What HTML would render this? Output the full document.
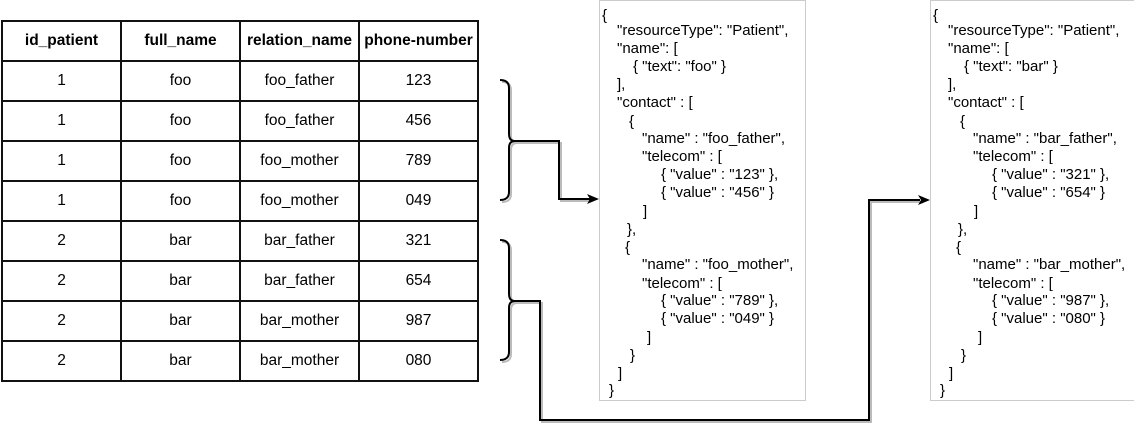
<!DOCTYPE html>
<html><head><meta charset="utf-8"><style>
body{margin:0;width:1134px;height:433px;background:#fff;overflow:hidden;font-family:"Liberation Sans",Arial,sans-serif;}
table{position:absolute;left:1px;top:20px;border-collapse:collapse;table-layout:fixed;width:478px;}
td{border:2px solid #111;height:38px;text-align:center;font-size:15.5px;color:#000;padding:0;white-space:nowrap;overflow:visible;}
tr:first-child td{font-weight:bold;}
svg{position:absolute;left:0;top:0;}
</style></head><body>
<svg width="1134" height="433" font-family="Liberation Sans, Arial, sans-serif" font-size="15">
<rect x="599.5" y="0.5" width="206" height="400" fill="#fff" stroke="#ccc"/>
<rect x="930.5" y="0.5" width="210" height="400" fill="#fff" stroke="#ccc"/>
<g fill="none" stroke="#bbb" stroke-width="2" transform="translate(2,2)">
<path d="M500 80 Q509 80 509 88 L509 134 Q509 141 515 141 Q509 141 509 148 L509 192 Q509 200 500 200"/>
<path d="M515 141 H559 V199 H590"/>
<path d="M500 240 Q509 240 509 248 L509 294 Q509 301 515 301 Q509 301 509 308 L509 352 Q509 360 500 360"/>
<path d="M515 301 H540 V420 H869 V200 H920"/>
</g>
<g fill="none" stroke="#000" stroke-width="2">
<path d="M500 80 Q509 80 509 88 L509 134 Q509 141 515 141 Q509 141 509 148 L509 192 Q509 200 500 200"/>
<path d="M515 141 H559 V199 H590"/>
<path d="M500 240 Q509 240 509 248 L509 294 Q509 301 515 301 Q509 301 509 308 L509 352 Q509 360 500 360"/>
<path d="M515 301 H540 V420 H869 V200 H920"/>
</g>
<path d="M599 199 L587 194 L590 199 L587 204 Z" fill="#000"/>
<path d="M930 200 L918 195 L921 200 L918 205 Z" fill="#000"/>
<g fill="#000">
<text x="602" y="20">{</text>
<text x="617" y="35">"resourceType": "Patient",</text>
<text x="617" y="53">"name": [</text>
<text x="633" y="71">{ "text": "foo" }</text>
<text x="617" y="89">],</text>
<text x="617" y="107">"contact" : [</text>
<text x="629" y="126">{</text>
<text x="642" y="143">"name" : "foo_father",</text>
<text x="642" y="161">"telecom" : [</text>
<text x="661" y="179">{ "value" : "123" },</text>
<text x="661" y="197">{ "value" : "456" }</text>
<text x="643" y="216">]</text>
<text x="627" y="234">},</text>
<text x="625" y="252">{</text>
<text x="642" y="269">"name" : "foo_mother",</text>
<text x="642" y="288">"telecom" : [</text>
<text x="661" y="305">{ "value" : "789" },</text>
<text x="661" y="323">{ "value" : "049" }</text>
<text x="647" y="342">]</text>
<text x="630" y="360">}</text>
<text x="618" y="378">]</text>
<text x="609" y="395">}</text>
</g>
<g fill="#000" transform="translate(331,0)">
<text x="602" y="20">{</text>
<text x="617" y="35">"resourceType": "Patient",</text>
<text x="617" y="53">"name": [</text>
<text x="633" y="71">{ "text": "bar" }</text>
<text x="617" y="89">],</text>
<text x="617" y="107">"contact" : [</text>
<text x="629" y="126">{</text>
<text x="642" y="143">"name" : "bar_father",</text>
<text x="642" y="161">"telecom" : [</text>
<text x="661" y="179">{ "value" : "321" },</text>
<text x="661" y="197">{ "value" : "654" }</text>
<text x="643" y="216">]</text>
<text x="627" y="234">},</text>
<text x="625" y="252">{</text>
<text x="642" y="269">"name" : "bar_mother",</text>
<text x="642" y="288">"telecom" : [</text>
<text x="661" y="305">{ "value" : "987" },</text>
<text x="661" y="323">{ "value" : "080" }</text>
<text x="647" y="342">]</text>
<text x="630" y="360">}</text>
<text x="618" y="378">]</text>
<text x="609" y="395">}</text>
</g>
</svg>
<table>
<tr><td>id_patient</td><td>full_name</td><td>relation_name</td><td>phone-number</td></tr>
<tr><td>1</td><td>foo</td><td>foo_father</td><td>123</td></tr>
<tr><td>1</td><td>foo</td><td>foo_father</td><td>456</td></tr>
<tr><td>1</td><td>foo</td><td>foo_mother</td><td>789</td></tr>
<tr><td>1</td><td>foo</td><td>foo_mother</td><td>049</td></tr>
<tr><td>2</td><td>bar</td><td>bar_father</td><td>321</td></tr>
<tr><td>2</td><td>bar</td><td>bar_father</td><td>654</td></tr>
<tr><td>2</td><td>bar</td><td>bar_mother</td><td>987</td></tr>
<tr><td>2</td><td>bar</td><td>bar_mother</td><td>080</td></tr>
</table>
</body></html>
